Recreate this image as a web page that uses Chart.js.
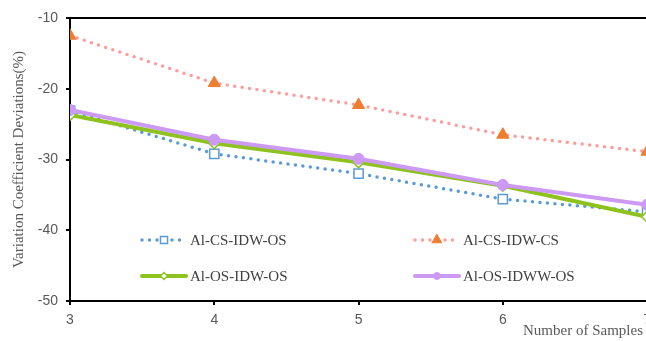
<!DOCTYPE html>
<html>
<head>
<meta charset="utf-8">
<script src="https://cdn.jsdelivr.net/npm/chart.js@4/dist/chart.umd.min.js"></script>
<style>
  html, body { margin: 0; padding: 0; background: #fff; overflow: hidden; }
  #wrap { width: 646px; height: 341px; overflow: hidden; }
  #box { width: 658px; height: 341px; }
</style>
</head>
<body>
<div id="wrap"><div id="box"><canvas id="graphique"></canvas></div></div>
<script>
// valeurs
const samples = [3, 4, 5, 6, 7];
const csIdwOs = [-23.1, -29.2, -32.0, -35.6, -37.4];
const csIdwCs = [-12.5, -19.2, -22.3, -26.5, -28.9];
const osIdwOs = [-23.7, -27.7, -30.4, -33.7, -38.1];
const osIdwwOs = [-23.0, -27.2, -29.9, -33.6, -36.4];
const yTicks = [-50, -40, -30, -20, -10];

const toPoints = (vals) => vals.map((v, i) => ({ x: samples[i], y: v }));

const grey = "#595959";

// légende dessinée dans la zone du graphique (2 x 2) + titre de l'axe x
const insideLegend = {
    id: "insideLegend",
    afterDraw(chart) {
        const c = chart.ctx;
        const a = chart.chartArea;
        const slots = [
            { x: a.left + 72, y: a.top + 222 },
            { x: a.left + 345, y: a.top + 222 },
            { x: a.left + 72, y: a.top + 258 },
            { x: a.left + 345, y: a.top + 258 }
        ];
        chart.data.datasets.forEach((ds, i) => {
            const s = slots[i];
            c.save();
            c.strokeStyle = ds.borderColor;
            c.lineWidth = ds.borderWidth;
            c.lineCap = "round";
            c.setLineDash(ds.borderDash || []);
            c.beginPath();
            c.moveTo(s.x, s.y);
            c.lineTo(s.x + 44, s.y);
            c.stroke();
            c.setLineDash([]);
            c.fillStyle = ds.pointBackgroundColor;
            c.strokeStyle = ds.pointBorderColor;
            c.lineWidth = ds.pointBorderWidth;
            Chart.helpers.drawPoint(c, {
                pointStyle: ds.pointStyle,
                radius: ds.legendRadius,
                borderWidth: ds.pointBorderWidth
            }, s.x + 22, s.y);
            c.fillStyle = "#404040";
            c.font = "15px 'Liberation Serif'";
            c.textBaseline = "middle";
            c.fillText(ds.label, s.x + 48, s.y + 1);
            c.restore();
        });
        c.save();
        // cadre du haut
        c.strokeStyle = "#000";
        c.lineWidth = 2;
        c.beginPath();
        c.moveTo(a.left, a.top);
        c.lineTo(a.right, a.top);
        c.stroke();
        // titre de l'axe x, en bas à droite
        c.fillStyle = grey;
        c.font = "15px 'Liberation Serif'";
        c.textAlign = "right";
        c.textBaseline = "middle";
        c.fillText("Number of Samples", 643, a.bottom + 30);
        c.restore();
    }
};

new Chart(document.getElementById("graphique").getContext("2d"), {
    type: "line",
    data: {
        datasets: [
            {
                label: "Al-CS-IDW-OS",
                data: toPoints(csIdwOs),
                borderColor: "#5B9BD5",
                borderWidth: 3.5,
                borderDash: [0, 7.5],
                borderCapStyle: "round",
                pointStyle: "rect",
                pointRadius: 6.5,
                legendRadius: 5,
                pointBorderWidth: 1.5,
                pointBackgroundColor: "#fff",
                pointBorderColor: "#5B9BD5",
                order: 4
            },
            {
                label: "Al-CS-IDW-CS",
                data: toPoints(csIdwCs),
                borderColor: "#FF9B9B",
                borderWidth: 3.5,
                borderDash: [0, 7.5],
                borderCapStyle: "round",
                pointStyle: "triangle",
                pointRadius: 7,
                legendRadius: 5.5,
                pointBorderWidth: 1,
                pointBackgroundColor: "#ED7D31",
                pointBorderColor: "#ED7D31",
                order: 3
            },
            {
                label: "Al-OS-IDW-OS",
                data: toPoints(osIdwOs),
                borderColor: "#8DC21F",
                borderWidth: 4,
                pointStyle: "rectRot",
                pointRadius: 5.5,
                legendRadius: 3.5,
                pointBorderWidth: 1.5,
                pointBackgroundColor: "#fff",
                pointBorderColor: "#8DC21F",
                order: 2
            },
            {
                label: "Al-OS-IDWW-OS",
                data: toPoints(osIdwwOs),
                borderColor: "#CC99F5",
                borderWidth: 4,
                pointStyle: "circle",
                pointRadius: 5.5,
                legendRadius: 3.5,
                pointBorderWidth: 1,
                pointBackgroundColor: "#CC99F5",
                pointBorderColor: "#CC99F5",
                order: 1
            }
        ]
    },
    options: {
        responsive: true,
        maintainAspectRatio: false,
        animation: false,
        layout: { padding: { top: 18, right: 0, left: 0, bottom: 0 } },
        plugins: {
            legend: { display: false },
            tooltip: { enabled: false }
        },
        scales: {
            x: {
                type: "linear",
                min: samples[0],
                max: samples[samples.length - 1],
                afterBuildTicks: (scale) => { scale.ticks = samples.map(v => ({ value: v })); },
                afterFit: (scale) => { scale.height = 40; },
                border: { color: "#000", width: 2 },
                grid: { drawOnChartArea: false, drawTicks: true, tickLength: 4, color: "#000", lineWidth: 2 },
                ticks: { color: grey, font: { family: "'Liberation Sans'", size: 14 }, padding: 7 }
            },
            y: {
                min: yTicks[0],
                max: yTicks[yTicks.length - 1],
                afterBuildTicks: (scale) => { scale.ticks = yTicks.map(v => ({ value: v })); },
                afterFit: (scale) => { scale.width = 70; },
                border: { color: "#000", width: 2 },
                grid: { drawOnChartArea: false, drawTicks: true, tickLength: 4, color: "#000", lineWidth: 2 },
                ticks: { color: grey, font: { family: "'Liberation Sans'", size: 14 }, padding: 8 },
                title: {
                    display: true,
                    text: "Variation Coefficient Deviations(%)",
                    color: grey,
                    font: { family: "'Liberation Serif'", size: 15 },
                    padding: { top: 10, bottom: 0 }
                }
            }
        }
    },
    plugins: [insideLegend]
});
</script>
</body>
</html>
